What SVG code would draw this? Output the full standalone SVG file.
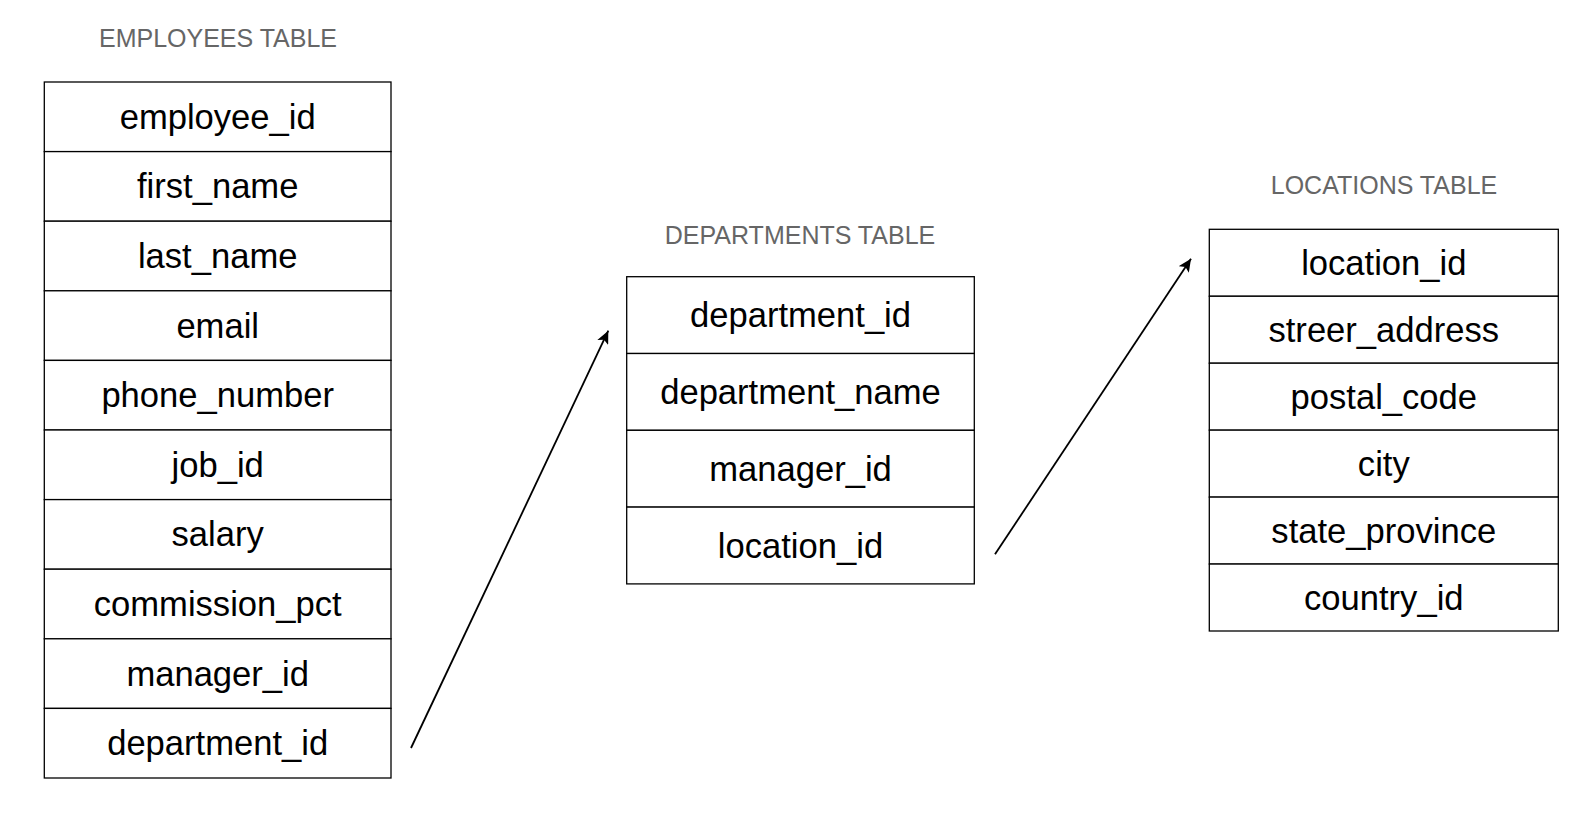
<svg xmlns="http://www.w3.org/2000/svg" width="1596" height="818" viewBox="0 0 1596 818">
<style>
.bg{fill:#ffffff}
.cell{fill:#ffffff;stroke:#000000;stroke-width:1.3}
.t{font-family:"Liberation Sans",Arial,Helvetica,sans-serif;font-size:34.6px;fill:#000000;text-anchor:middle}
.title{font-family:"Liberation Sans",Arial,Helvetica,sans-serif;font-size:25px;fill:#666666;text-anchor:middle}
.conn{stroke:#000000;stroke-width:1.8;fill:none}
</style>
<defs>
<marker id="arrow" markerUnits="userSpaceOnUse" markerWidth="14" markerHeight="12" viewBox="0 0 14 12" refX="13" refY="6" orient="auto">
<path d="M0,0 L13,6 L0,12 L3,6 z" fill="#000000"/>
</marker>
</defs>
<rect class="bg" x="0" y="0" width="1596" height="818"/>

<g id="employees">
<text class="title" x="218" y="47">EMPLOYEES TABLE</text>
<rect class="cell" x="44.3" y="82" width="346.7" height="69.6"/>
<rect class="cell" x="44.3" y="151.6" width="346.7" height="69.6"/>
<rect class="cell" x="44.3" y="221.2" width="346.7" height="69.6"/>
<rect class="cell" x="44.3" y="290.8" width="346.7" height="69.6"/>
<rect class="cell" x="44.3" y="360.4" width="346.7" height="69.6"/>
<rect class="cell" x="44.3" y="430" width="346.7" height="69.6"/>
<rect class="cell" x="44.3" y="499.6" width="346.7" height="69.6"/>
<rect class="cell" x="44.3" y="569.2" width="346.7" height="69.6"/>
<rect class="cell" x="44.3" y="638.8" width="346.7" height="69.6"/>
<rect class="cell" x="44.3" y="708.4" width="346.7" height="69.6"/>
<text class="t" x="217.7" y="128.8">employee_id</text>
<text class="t" x="217.7" y="198.4">first_name</text>
<text class="t" x="217.7" y="268">last_name</text>
<text class="t" x="217.7" y="337.6">email</text>
<text class="t" x="217.7" y="407.2">phone_number</text>
<text class="t" x="217.7" y="476.8">job_id</text>
<text class="t" x="217.7" y="546.4">salary</text>
<text class="t" x="217.7" y="616">commission_pct</text>
<text class="t" x="217.7" y="685.6">manager_id</text>
<text class="t" x="217.7" y="755.2">department_id</text>
</g>

<g id="departments">
<text class="title" x="800" y="244">DEPARTMENTS TABLE</text>
<rect class="cell" x="626.7" y="276.7" width="347.6" height="76.8"/>
<rect class="cell" x="626.7" y="353.5" width="347.6" height="76.8"/>
<rect class="cell" x="626.7" y="430.3" width="347.6" height="76.8"/>
<rect class="cell" x="626.7" y="507.1" width="347.6" height="76.8"/>
<text class="t" x="800.5" y="327.1">department_id</text>
<text class="t" x="800.5" y="403.9">department_name</text>
<text class="t" x="800.5" y="480.7">manager_id</text>
<text class="t" x="800.5" y="557.5">location_id</text>
</g>

<g id="locations">
<text class="title" x="1384" y="194">LOCATIONS TABLE</text>
<rect class="cell" x="1209.3" y="229.3" width="349" height="66.95"/>
<rect class="cell" x="1209.3" y="296.25" width="349" height="66.95"/>
<rect class="cell" x="1209.3" y="363.2" width="349" height="66.95"/>
<rect class="cell" x="1209.3" y="430.15" width="349" height="66.95"/>
<rect class="cell" x="1209.3" y="497.1" width="349" height="66.95"/>
<rect class="cell" x="1209.3" y="564.05" width="349" height="66.95"/>
<text class="t" x="1383.8" y="274.8">location_id</text>
<text class="t" x="1383.8" y="341.75">streer_address</text>
<text class="t" x="1383.8" y="408.7">postal_code</text>
<text class="t" x="1383.8" y="475.65">city</text>
<text class="t" x="1383.8" y="542.6">state_province</text>
<text class="t" x="1383.8" y="609.55">country_id</text>
</g>

<g id="connectors">
<line class="conn" x1="411" y1="748" x2="608.3" y2="330.7" marker-end="url(#arrow)"/>
<line class="conn" x1="995" y1="554.3" x2="1191" y2="258.7" marker-end="url(#arrow)"/>
</g>
</svg>
